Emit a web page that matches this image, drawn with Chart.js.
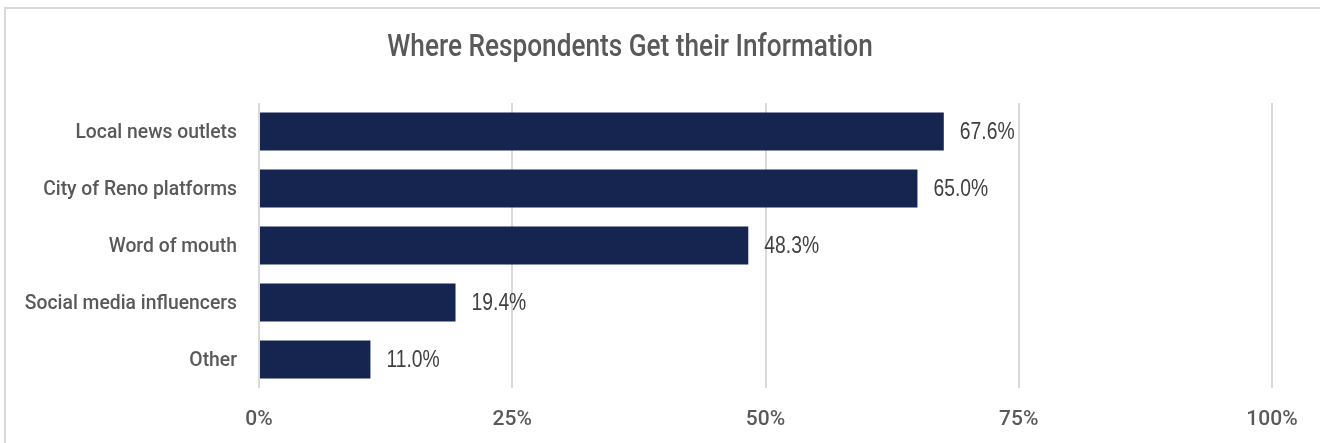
<!DOCTYPE html>
<html>
<head>
<meta charset="utf-8">
<title>Where Respondents Get their Information</title>
<script src="https://cdn.jsdelivr.net/npm/chart.js@4"></script>
<style>
  html, body { margin: 0; padding: 0; background: #ffffff; overflow: hidden; }
  #wrap { position: relative; width: 1320px; height: 443px; }
  #frame {
    position: absolute; left: 4px; top: 7px; width: 1330px; height: 460px;
    border: 2px solid #d9d9d9; box-sizing: border-box; pointer-events: none;
  }
  canvas { position: absolute; left: 0; top: 0; }
</style>
</head>
<body>
<div id="wrap">
  <canvas id="infoChart" width="1320" height="443"></canvas>
  <div id="frame"></div>
</div>
<script>
const categories = [
    'Local news outlets',
    'City of Reno platforms',
    'Word of mouth',
    'Social media influencers',
    'Other'
];
const shares = [67.6, 65.0, 48.3, 19.4, 11.0];
const tickValues = [0, 25, 50, 75, 100];
const chartTitle = 'Where Respondents Get their Information';

const textGray = '#595959';
const barColor = '#15254f';

// no narrow font installed, so squeeze text horizontally
function drawNarrow(ctx, text, x, y, align, squeeze) {
    ctx.save();
    ctx.translate(x, y);
    ctx.scale(squeeze, 1);
    ctx.textAlign = align;
    ctx.fillText(text, 0, 0);
    ctx.restore();
}

// title, category names and the value after each bar
const narrowText = {
    id: 'narrowText',
    afterDatasetsDraw(chart) {
        const ctx = chart.ctx;
        const yScale = chart.scales.y;
        const meta = chart.getDatasetMeta(0);
        ctx.save();
        ctx.textBaseline = 'middle';

        ctx.fillStyle = textGray;
        ctx.font = '500 31px Roboto';
        drawNarrow(ctx, chartTitle, 630, 48, 'center', 0.845);

        ctx.font = '500 21px Roboto';
        categories.forEach((name, i) => {
            drawNarrow(ctx, name, yScale.right - 22, yScale.getPixelForValue(i) + 1.5, 'right', 0.92);
        });

        ctx.fillStyle = '#404040';
        ctx.font = '23px "Liberation Sans"';
        meta.data.forEach((bar, i) => {
            drawNarrow(ctx, shares[i].toFixed(1) + '%', bar.x + 16, bar.y + 1, 'left', 0.84);
        });
        ctx.restore();
    }
};

const ctx = document.getElementById('infoChart').getContext('2d');
const infoChart = new Chart(ctx, {
    type: 'bar',
    data: {
        labels: categories,
        datasets: [{
            data: shares,
            backgroundColor: barColor,
            borderWidth: 0,
            barPercentage: 0.667,
            categoryPercentage: 1.0
        }]
    },
    options: {
        indexAxis: 'y',
        responsive: false,
        animation: false,
        layout: {
            padding: { left: 0, right: 48, top: 103, bottom: 0 }
        },
        scales: {
            x: {
                min: 0,
                max: 100,
                afterBuildTicks: (scale) => {
                    scale.ticks = tickValues.map(v => ({ value: v }));
                },
                afterFit: (scale) => { scale.height = 55; },
                grid: {
                    color: '#d9d9d9',
                    lineWidth: 2,
                    drawTicks: false
                },
                border: { display: false },
                ticks: {
                    padding: 19,
                    color: textGray,
                    font: { family: 'Roboto', size: 21, weight: '500' },
                    callback: (v) => v + '%'
                }
            },
            y: {
                afterFit: (scale) => { scale.width = 259; },
                grid: { display: false },
                border: { display: false },
                ticks: { display: false }
            }
        },
        plugins: {
            legend: { display: false },
            tooltip: { enabled: false },
            title: { display: false }
        }
    },
    plugins: [narrowText]
});
</script>
</body>
</html>
